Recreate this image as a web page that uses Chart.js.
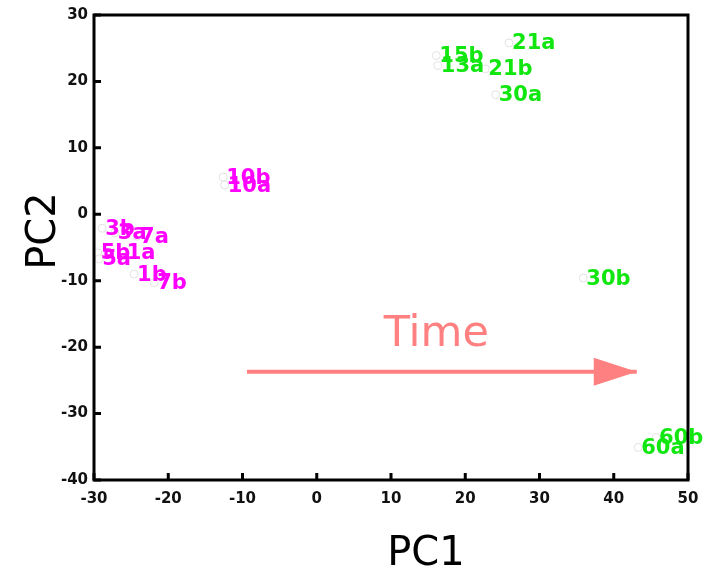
<!DOCTYPE html>
<html>
<head>
<meta charset="utf-8">
<script src="https://cdn.jsdelivr.net/npm/chart.js@4"></script>
<style>
  html, body { margin: 0; padding: 0; background: #fff; }
  canvas { display: block; }
</style>
</head>
<body>
<canvas id="chart" width="714" height="571"></canvas>
<script>
// --- Data ---
const earlyLabels = ['3b', '3a', '7a', '5b', '5a', '1a', '1b', '7b', '10b', '10a'];
const earlyX = [-28.9, -27.2, -24.2, -29.5, -29.3, -26.0, -24.6, -21.9, -12.6, -12.4];
const earlyY = [-2.1, -2.8, -3.3, -5.8, -6.7, -5.7, -9.0, -10.3, 5.6, 4.4];

const lateLabels = ['21a', '15b', '13a', '21b', '30a', '30b', '60b', '60a'];
const lateX = [25.9, 16.1, 16.3, 22.7, 24.1, 35.9, 45.7, 43.3];
const lateY = [25.8, 23.9, 22.4, 21.9, 18.0, -9.6, -33.6, -35.1];

const arrowX = [-9.4, 43.1];
const arrowY = [-23.7, -23.7];
const timeText = 'Time';
const timeAt = { x: 16.1, y: -19.8 };

const xTicks = { min: -30, max: 50, step: 10 };
const yTicks = { min: -40, max: 30, step: 10 };

const MAGENTA = '#ff00ff';
const GREEN = '#11e611';
const SALMON = '#ff8080';
const FONT = '"DejaVu Sans", Verdana, sans-serif';

function toPoints(xs, ys) {
    return xs.map((x, i) => ({ x: x, y: ys[i] }));
}

// --- Plugins ---
const pointLabels = {
    id: 'pointLabels',
    afterDatasetsDraw(chart) {
        const ctx = chart.ctx;
        ctx.save();
        ctx.font = 'bold 21px ' + FONT;
        ctx.textAlign = 'left';
        ctx.textBaseline = 'middle';
        chart.data.datasets.forEach((ds, di) => {
            if (!ds.names) return;
            const meta = chart.getDatasetMeta(di);
            ctx.fillStyle = ds.textColor;
            meta.data.forEach((pt, i) => {
                ctx.fillText(ds.names[i], pt.x + 3, pt.y + 1);
            });
        });

        // arrow head + Time label
        const xs = chart.scales.x, ys = chart.scales.y;
        const tipX = xs.getPixelForValue(arrowX[1]);
        const tipY = ys.getPixelForValue(arrowY[1]);
        ctx.fillStyle = SALMON;
        ctx.beginPath();
        ctx.moveTo(tipX, tipY);
        ctx.lineTo(tipX - 43, tipY - 14);
        ctx.lineTo(tipX - 43, tipY + 14);
        ctx.closePath();
        ctx.fill();

        ctx.font = '43px ' + FONT;
        ctx.textAlign = 'center';
        ctx.textBaseline = 'alphabetic';
        ctx.fillText(timeText, xs.getPixelForValue(timeAt.x), ys.getPixelForValue(timeAt.y));
        ctx.restore();
    }
};

const frame = {
    id: 'frame',
    afterDraw(chart) {
        const ctx = chart.ctx;
        const a = chart.chartArea;
        ctx.save();
        ctx.strokeStyle = '#000';
        ctx.lineWidth = 3;
        ctx.strokeRect(a.left, a.top, a.right - a.left, a.bottom - a.top);

        // inward tick marks on bottom and left
        ctx.beginPath();
        chart.scales.x.ticks.forEach(t => {
            const px = chart.scales.x.getPixelForValue(t.value);
            ctx.moveTo(px, a.bottom);
            ctx.lineTo(px, a.bottom - 7);
        });
        chart.scales.y.ticks.forEach(t => {
            const py = chart.scales.y.getPixelForValue(t.value);
            ctx.moveTo(a.left, py);
            ctx.lineTo(a.left + 7, py);
        });
        ctx.stroke();

        // axis titles
        ctx.fillStyle = '#000';
        ctx.font = '40px ' + FONT;
        ctx.textAlign = 'center';
        ctx.textBaseline = 'alphabetic';
        ctx.fillText('PC1', 426, 565);
        ctx.translate(55, 231);
        ctx.rotate(-Math.PI / 2);
        ctx.fillText('PC2', 0, 0);
        ctx.restore();
    }
};

// --- Chart ---
const tickFont = { family: FONT, size: 15, weight: 'bold' };

new Chart(document.getElementById('chart'), {
    type: 'scatter',
    data: {
        datasets: [
            {
                data: toPoints(arrowX, arrowY),
                showLine: true,
                borderColor: SALMON,
                borderWidth: 4,
                pointRadius: 0
            },
            {
                data: toPoints(earlyX, earlyY),
                names: earlyLabels,
                textColor: MAGENTA,
                pointRadius: 4,
                backgroundColor: '#ffffff',
                borderColor: '#e2e2e2',
                borderWidth: 1
            },
            {
                data: toPoints(lateX, lateY),
                names: lateLabels,
                textColor: GREEN,
                pointRadius: 4,
                backgroundColor: '#ffffff',
                borderColor: '#e2e2e2',
                borderWidth: 1
            }
        ]
    },
    options: {
        responsive: false,
        animation: false,
        layout: { padding: { top: 13, right: 26, left: 0, bottom: 0 } },
        plugins: {
            legend: { display: false },
            tooltip: { enabled: false }
        },
        scales: {
            x: {
                type: 'linear',
                min: xTicks.min,
                max: xTicks.max,
                ticks: { stepSize: xTicks.step, font: tickFont, color: '#111', padding: 10, maxRotation: 0 },
                grid: { display: false, drawTicks: false },
                border: { display: false },
                afterFit: s => { s.height = 91; }
            },
            y: {
                type: 'linear',
                min: yTicks.min,
                max: yTicks.max,
                ticks: { stepSize: yTicks.step, font: tickFont, color: '#111', padding: 6 },
                grid: { display: false, drawTicks: false },
                border: { display: false },
                afterFit: s => { s.width = 94; }
            }
        }
    },
    plugins: [pointLabels, frame]
});
</script>
</body>
</html>
